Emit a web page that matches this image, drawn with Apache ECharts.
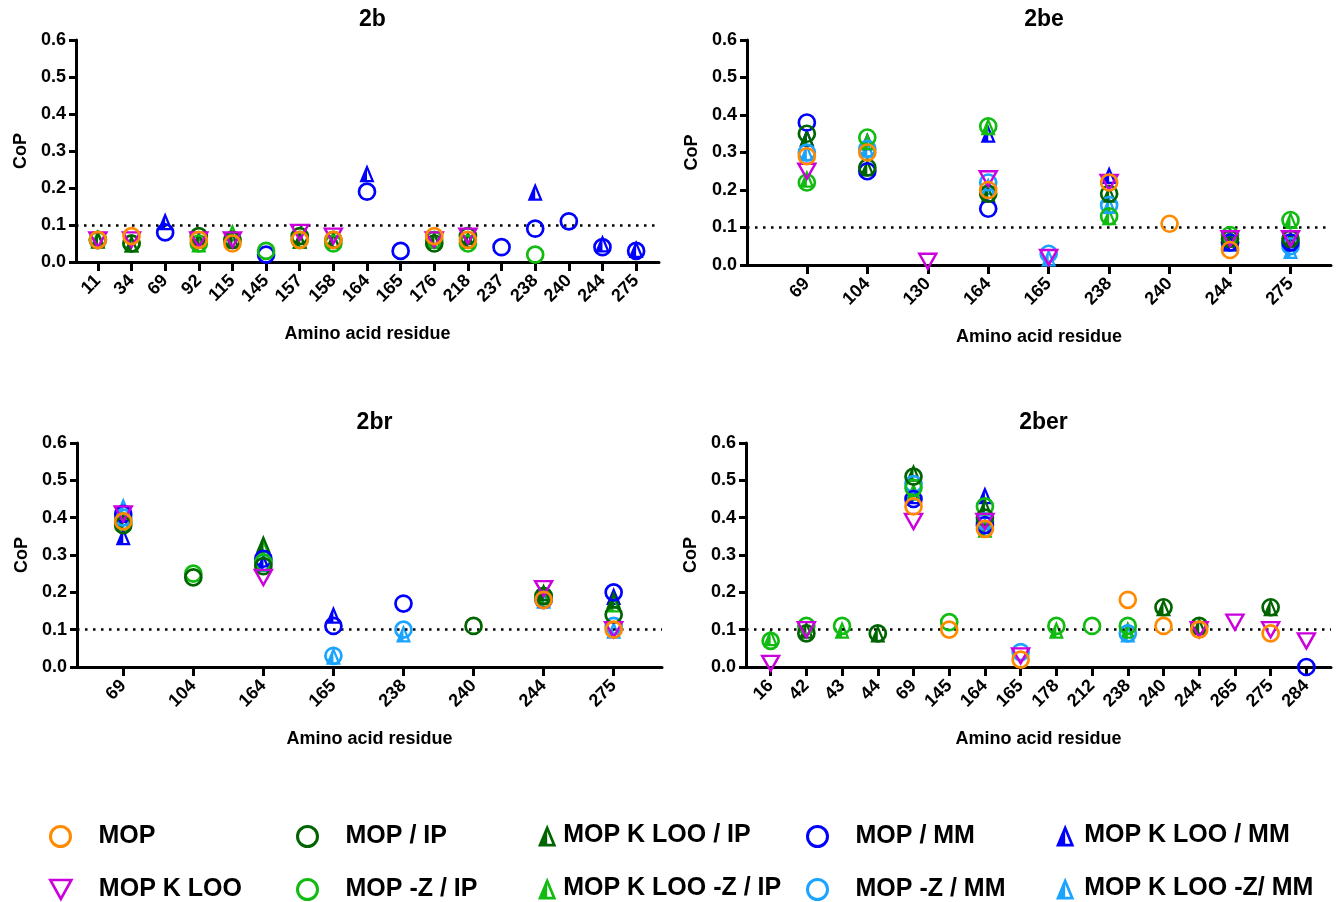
<!DOCTYPE html>
<html>
<head>
<meta charset="utf-8">
<script src="https://cdn.jsdelivr.net/npm/echarts@6/dist/echarts.min.js"></script>
<style>html,body{margin:0;padding:0;background:#fff}#c{width:1338px;height:902px}</style>
</head>
<body>
<div id="c"></div>
<script>
const _ = null;
// ---- categories (tick labels) ----
const cats_b   = ['11','34','69','92','115','145','157','158','164','165','176','218','237','238','240','244','275'];
const cats_be  = ['69','104','130','164','165','238','240','244','275'];
const cats_br  = ['69','104','164','165','238','240','244','275'];
const cats_ber = ['16','42','43','44','69','145','164','165','178','212','238','240','244','265','275','284'];
const yTicks = [0, 0.1, 0.2, 0.3, 0.4, 0.5, 0.6];
const threshold = 0.1;

// ---- 2b ----
const b_MOP        = [0.06,0.07,_,0.06,0.05,_,0.06,0.06,_,_,0.07,0.06,_,_,_,_,_];
const b_KLOO       = [0.06,0.06,_,0.06,0.06,_,0.08,0.07,_,_,0.06,0.07,_,_,_,_,_];
const b_IP         = [0.06,0.05,_,0.07,0.06,_,0.07,0.06,_,_,0.05,0.07,_,_,_,_,_];
const b_ZIP        = [0.06,0.05,_,0.05,0.06,0.03,0.06,0.05,_,_,0.06,0.05,_,0.02,_,_,_];
const b_KLOO_IP    = [0.06,0.05,_,0.06,0.06,_,0.06,0.06,_,_,0.06,0.06,_,_,_,_,_];
const b_KLOO_ZIP   = [0.065,0.05,_,0.05,0.08,_,0.06,0.06,_,_,0.06,0.06,_,_,_,_,_];
const b_MM         = [_,_,0.08,_,_,0.02,_,_,0.19,0.03,_,_,0.04,0.09,0.11,0.04,0.03];
const b_ZMM        = [_,_,_,_,_,_,_,_,_,_,_,_,_,_,_,_,_];
const b_KLOO_MM    = [_,_,0.11,_,_,_,_,_,0.24,_,_,_,_,0.19,_,0.05,0.035];
const b_KLOO_ZMM   = [_,_,_,_,_,_,_,_,_,_,_,_,_,_,_,_,_];

// ---- 2be ----
const be_MOP       = [0.29,0.30,_,0.20,_,0.22,0.11,0.04,_];
const be_KLOO      = [0.25,_,0.01,0.23,0.02,0.22,_,0.07,0.07];
const be_IP        = [0.35,0.26,_,0.19,_,0.19,_,0.07,0.07];
const be_ZIP       = [0.22,0.34,_,0.37,_,0.13,_,0.08,0.12];
const be_KLOO_IP   = [0.34,0.26,_,0.19,_,0.19,_,0.07,0.07];
const be_KLOO_ZIP  = [0.23,0.33,_,0.37,_,0.13,_,0.08,0.12];
const be_MM        = [0.38,0.25,_,0.15,_,_,_,0.06,0.06];
const be_ZMM       = [0.30,0.31,_,0.22,0.03,0.16,_,0.06,0.05];
const be_KLOO_MM   = [0.34,0.33,_,0.35,_,0.24,_,0.06,0.06];
const be_KLOO_ZMM  = [0.30,0.31,_,0.21,0.02,0.16,_,0.06,0.04];

// ---- 2br ----
const br_MOP       = [0.39,_,_,_,_,_,0.18,0.10];
const br_KLOO      = [0.41,_,0.24,_,_,_,0.21,0.10];
const br_IP        = [0.38,0.24,0.27,_,_,0.11,0.19,0.14];
const br_ZIP       = [0.39,0.25,0.28,_,_,_,0.19,_];
const br_KLOO_IP   = [0.39,_,0.33,_,_,_,0.20,0.18];
const br_KLOO_ZIP  = [0.39,_,0.32,_,_,_,0.19,0.17];
const br_MM        = [0.41,_,0.29,0.11,0.17,_,0.18,0.20];
const br_ZMM       = [0.40,_,0.28,0.03,0.10,_,0.18,0.11];
const br_KLOO_MM   = [0.35,_,0.28,0.14,_,_,0.19,0.19];
const br_KLOO_ZMM  = [0.43,_,0.28,0.03,0.09,_,0.18,0.10];

// ---- 2ber ----
const ber_MOP      = [_,_,_,_,0.43,0.10,0.37,0.02,_,_,0.18,0.11,0.10,_,0.09,_];
const ber_KLOO     = [0.01,0.10,_,_,0.39,_,0.39,0.03,_,_,_,_,0.10,0.12,0.10,0.07];
const ber_IP       = [_,0.09,_,0.09,0.51,_,0.40,_,_,_,_,0.16,0.11,_,0.16,_];
const ber_ZIP      = [0.07,0.11,0.11,_,0.48,0.12,0.43,_,0.11,0.11,0.11,_,_,_,_,_];
const ber_KLOO_IP  = [_,0.10,_,0.09,0.52,_,0.43,_,_,_,_,0.16,0.11,_,0.16,_];
const ber_KLOO_ZIP = [0.08,_,0.10,_,0.47,_,0.37,_,0.10,_,0.10,_,_,_,_,_];
const ber_MM       = [_,_,_,_,0.45,_,0.38,_,_,_,_,_,_,_,_,0.00];
const ber_ZMM      = [_,_,_,_,0.49,_,0.39,0.04,_,_,0.09,_,_,_,_,_];
const ber_KLOO_MM  = [_,_,_,_,0.46,_,0.46,_,_,_,_,_,_,_,_,_];
const ber_KLOO_ZMM = [_,_,_,_,0.47,_,0.38,_,_,_,0.09,_,_,_,_,_];

// ---- styling / layout ----
const FONT = 'Liberation Sans';
const C = {orange:'#FF8A00', magenta:'#CC00DD', dkgreen:'#006400', green:'#11BB11', blue:'#0000FF', ltblue:'#1AA3FF'};
const HALF_TRI = 'path://M5,0 L10,12 L0,12 Z M5,3.8 L2.25,10.5 L7.75,10.5 Z M5,0 L5,12 L0,12 Z';
const DOWN_TRI = 'path://M0,0 L10,0 L5,9 Z';

const panels = [
  {title:'2b',   cats:cats_b,   grid:{left:76,top:40,width:583,height:222},  min:-0.65, max:16.68,
   d:{MOP:b_MOP,KLOO:b_KLOO,IP:b_IP,ZIP:b_ZIP,KLOO_IP:b_KLOO_IP,KLOO_ZIP:b_KLOO_ZIP,MM:b_MM,ZMM:b_ZMM,KLOO_MM:b_KLOO_MM,KLOO_ZMM:b_KLOO_ZMM}},
  {title:'2be',  cats:cats_be,  grid:{left:747,top:40,width:584,height:225}, min:-0.99, max:8.67,
   d:{MOP:be_MOP,KLOO:be_KLOO,IP:be_IP,ZIP:be_ZIP,KLOO_IP:be_KLOO_IP,KLOO_ZIP:be_KLOO_ZIP,MM:be_MM,ZMM:be_ZMM,KLOO_MM:be_KLOO_MM,KLOO_ZMM:be_KLOO_ZMM}},
  {title:'2br',  cats:cats_br,  grid:{left:77,top:443,width:585,height:224}, min:-0.66, max:7.69,
   d:{MOP:br_MOP,KLOO:br_KLOO,IP:br_IP,ZIP:br_ZIP,KLOO_IP:br_KLOO_IP,KLOO_ZIP:br_KLOO_ZIP,MM:br_MM,ZMM:br_ZMM,KLOO_MM:br_KLOO_MM,KLOO_ZMM:br_KLOO_ZMM}},
  {title:'2ber', cats:cats_ber, grid:{left:746,top:443,width:585,height:224}, min:-0.69, max:15.69,
   d:{MOP:ber_MOP,KLOO:ber_KLOO,IP:ber_IP,ZIP:ber_ZIP,KLOO_IP:ber_KLOO_IP,KLOO_ZIP:ber_KLOO_ZIP,MM:ber_MM,ZMM:ber_ZMM,KLOO_MM:ber_KLOO_MM,KLOO_ZMM:ber_KLOO_ZMM}}
];

// drawing order: bottom -> top
const defs = [
  {key:'KLOO_ZMM', name:'MOP K LOO -Z/ MM',  color:C.ltblue,  kind:'half'},
  {key:'KLOO_MM',  name:'MOP K LOO / MM',    color:C.blue,    kind:'half'},
  {key:'KLOO_ZIP', name:'MOP K LOO -Z / IP', color:C.green,   kind:'half'},
  {key:'KLOO_IP',  name:'MOP K LOO / IP',    color:C.dkgreen, kind:'half'},
  {key:'ZMM',      name:'MOP -Z / MM',       color:C.ltblue,  kind:'circle'},
  {key:'MM',       name:'MOP / MM',          color:C.blue,    kind:'circle'},
  {key:'ZIP',      name:'MOP -Z / IP',       color:C.green,   kind:'circle'},
  {key:'IP',       name:'MOP / IP',          color:C.dkgreen, kind:'circle'},
  {key:'KLOO',     name:'MOP K LOO',         color:C.magenta, kind:'down'},
  {key:'MOP',      name:'MOP',               color:C.orange,  kind:'circle'}
];

function styleFor(def){
  if (def.kind === 'circle') return {symbol:'circle', symbolSize:16,
    itemStyle:{color:'rgba(255,255,255,0)', borderColor:def.color, borderWidth:2.7, opacity:1}};
  if (def.kind === 'down') return {symbol:DOWN_TRI, symbolSize:[17,15],
    itemStyle:{color:'rgba(255,255,255,0)', borderColor:def.color, borderWidth:2.4, opacity:1}};
  return {symbol:HALF_TRI, symbolSize:[15,18], itemStyle:{color:def.color, borderWidth:0, opacity:1}};
}

const grids = [], xAxes = [], yAxes = [], titles = [], series = [];
panels.forEach((p, pi) => {
  grids.push(Object.assign({containLabel:false}, p.grid));
  titles.push({text:p.title, left:p.grid.left + p.grid.width/2, top:p.grid.top - 37, textAlign:'center',
    textStyle:{fontFamily:FONT, fontWeight:'bold', fontSize:23, color:'#000'}});
  const idx = p.cats.map((c,i)=>i);
  xAxes.push({type:'value', gridIndex:pi, min:p.min, max:p.max,
    name:'Amino acid residue', nameLocation:'middle', nameGap:63,
    nameTextStyle:{fontFamily:FONT, fontWeight:'bold', fontSize:18, color:'#000'},
    axisLine:{onZero:false, lineStyle:{color:'#000', width:3}},
    axisTick:{customValues:idx, inside:false, length:9, lineStyle:{color:'#000', width:3}},
    axisLabel:{customValues:idx, rotate:45, margin:16, fontFamily:FONT, fontWeight:'bold', fontSize:18, color:'#000',
      formatter:(v)=>p.cats[Math.round(v)]},
    splitLine:{show:false}});
  yAxes.push({type:'value', gridIndex:pi, min:yTicks[0], max:yTicks[yTicks.length-1], interval:0.1,
    name:'CoP', nameLocation:'middle', nameGap:46, nameRotate:90,
    nameTextStyle:{fontFamily:FONT, fontWeight:'bold', fontSize:18, color:'#000'},
    axisLine:{show:true, onZero:false, lineStyle:{color:'#000', width:3}},
    axisTick:{show:true, inside:false, length:7, lineStyle:{color:'#000', width:3}},
    axisLabel:{margin:10, fontFamily:FONT, fontWeight:'bold', fontSize:18, color:'#000', formatter:(v)=>v.toFixed(1)},
    splitLine:{show:false}});
  defs.forEach((def, di) => {
    const vals = p.d[def.key];
    const data = [];
    vals.forEach((v,i)=>{ if (v !== null) data.push([i, v]); });
    const s = Object.assign({type:'scatter', name:def.name, xAxisIndex:pi, yAxisIndex:pi, data:data,
      clip:false, silent:true, z:2 + di}, styleFor(def));
    if (di === 0) {
      s.markLine = {silent:true, symbol:'none', label:{show:false},
        lineStyle:{color:'#000', width:2.5, type:[2.5,5.5], opacity:1},
        data:[{yAxis:threshold}]};
    }
    series.push(s);
  });
});

// legend: two rows, five columns (left = visible icon's left edge)
const legendPos = [
  {name:'MOP',               left:49,   top:824, w:66, h:20, border:3},
  {name:'MOP / IP',          left:296,  top:824, w:66, h:20, border:3},
  {name:'MOP K LOO / IP',    left:538,  top:823, w:22, h:22, border:0},
  {name:'MOP / MM',          left:806,  top:824, w:66, h:20, border:3},
  {name:'MOP K LOO / MM',    left:1056, top:823, w:28, h:22, border:0},
  {name:'MOP K LOO',         left:49,   top:877, w:66, h:19, border:2.6},
  {name:'MOP -Z / IP',       left:296,  top:877, w:66, h:20, border:3},
  {name:'MOP K LOO -Z / IP', left:538,  top:876, w:22, h:22, border:0},
  {name:'MOP -Z / MM',       left:806,  top:877, w:66, h:20, border:3},
  {name:'MOP K LOO -Z/ MM',  left:1056, top:876, w:28, h:22, border:0}
];
const legends = legendPos.map(l => ({
  data:[l.name], left:l.left, top:l.top, itemWidth:l.w, itemHeight:l.h, padding:0, selectedMode:false,
  itemStyle:{borderWidth:l.border, opacity:1},
  textStyle:{fontFamily:FONT, fontWeight:'bold', fontSize:25, color:'#000'}
}));

const chart = echarts.init(document.getElementById('c'), null, {renderer:'canvas'});
chart.setOption({
  animation:false,
  backgroundColor:'#fff',
  title:titles, grid:grids, xAxis:xAxes, yAxis:yAxes, legend:legends, series:series
});
</script>
</body>
</html>
